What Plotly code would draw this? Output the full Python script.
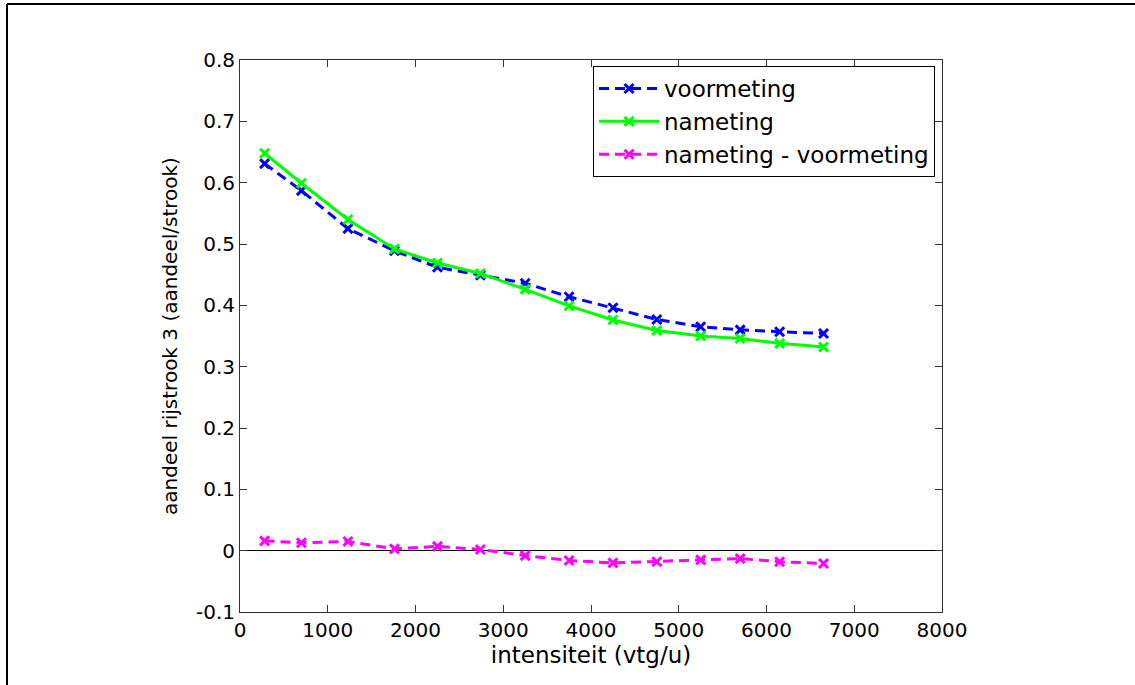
import plotly.graph_objects as go

intensiteit = [280, 700, 1230, 1760, 2250, 2740, 3250, 3750, 4250, 4750, 5250, 5700, 6150, 6650]
voormeting = [0.631, 0.587, 0.525, 0.489, 0.462, 0.449, 0.436, 0.414, 0.396, 0.377, 0.365, 0.360, 0.357, 0.354]
nameting = [0.648, 0.599, 0.540, 0.492, 0.469, 0.452, 0.426, 0.399, 0.376, 0.359, 0.350, 0.346, 0.338, 0.332]
verschil = [0.016, 0.013, 0.015, 0.003, 0.007, 0.002, -0.008, -0.016, -0.020, -0.018, -0.015, -0.013, -0.018, -0.021]

x_ticks = [0, 1000, 2000, 3000, 4000, 5000, 6000, 7000, 8000]
y_ticks = [-0.1, 0, 0.1, 0.2, 0.3, 0.4, 0.5, 0.6, 0.7, 0.8]
y_ticktext = ["-0.1", "0", "0.1", "0.2", "0.3", "0.4", "0.5", "0.6", "0.7", "0.8"]

FONT = "DejaVu Sans, Liberation Sans, Arial, sans-serif"
DASH = "10px,6px"

fig = go.Figure()
fig.add_trace(go.Scatter(
    x=intensiteit, y=voormeting, name="voormeting", mode="lines+markers",
    line=dict(color="#0000ff", width=3, dash=DASH),
    marker=dict(symbol="x-thin-open", size=9, line=dict(color="#0000ff", width=3)),
))
fig.add_trace(go.Scatter(
    x=intensiteit, y=nameting, name="nameting", mode="lines+markers",
    line=dict(color="#00ff00", width=3),
    marker=dict(symbol="x-thin-open", size=9, line=dict(color="#00ff00", width=3)),
))
fig.add_trace(go.Scatter(
    x=intensiteit, y=verschil, name="nameting - voormeting", mode="lines+markers",
    line=dict(color="#ff00ff", width=3, dash=DASH),
    marker=dict(symbol="x-thin-open", size=9, line=dict(color="#ff00ff", width=3)),
))

L, R, T, B = 240, 193, 60, 73
W, H = 1135, 685
pw, ph = W - L - R, H - T - B

def px(x):
    return (x - L) / pw

def py(y):
    return (H - B - y) / ph

# outer frame (top and left edges visible)
fig.add_shape(type="line", xref="paper", yref="paper", x0=px(7), y0=py(4), x1=px(1140), y1=py(4),
              line=dict(color="black", width=2))
fig.add_shape(type="line", xref="paper", yref="paper", x0=px(7), y0=py(4), x1=px(7), y1=py(690),
              line=dict(color="black", width=2))

fig.update_layout(
    width=W, height=H,
    margin=dict(l=L, r=R, t=T, b=B),
    paper_bgcolor="white", plot_bgcolor="white",
    font=dict(family=FONT, size=20, color="black"),
    showlegend=True,
    legend=dict(
        x=px(935), y=py(66), xanchor="right", yanchor="top",
        bgcolor="white", bordercolor="black", borderwidth=1,
        font=dict(family=FONT, size=23, color="black"),
        itemwidth=60,
    ),
)
fig.update_xaxes(
    range=[0, 8000], tickvals=x_ticks, ticks="inside", ticklen=7, tickcolor="#333333",
    showline=True, linecolor="#333333", linewidth=1, mirror="ticks",
    showgrid=False, zeroline=False,
    tickfont=dict(family=FONT, size=20),
    title=dict(text="intensiteit (vtg/u)", font=dict(family=FONT, size=23), standoff=4),
)
fig.update_yaxes(
    range=[-0.1, 0.8], tickvals=y_ticks, ticktext=y_ticktext, ticks="inside", ticklen=7,
    tickcolor="#333333",
    showline=True, linecolor="#333333", linewidth=1, mirror="ticks",
    showgrid=False, zeroline=True, zerolinecolor="black", zerolinewidth=1,
    tickfont=dict(family=FONT, size=20),
    title=dict(text="aandeel rijstrook 3 (aandeel/strook)", font=dict(family=FONT, size=20), standoff=12),
)

fig.write_html("out.html", config={"displayModeBar": False},
               post_script="document.body.style.margin='0';")
